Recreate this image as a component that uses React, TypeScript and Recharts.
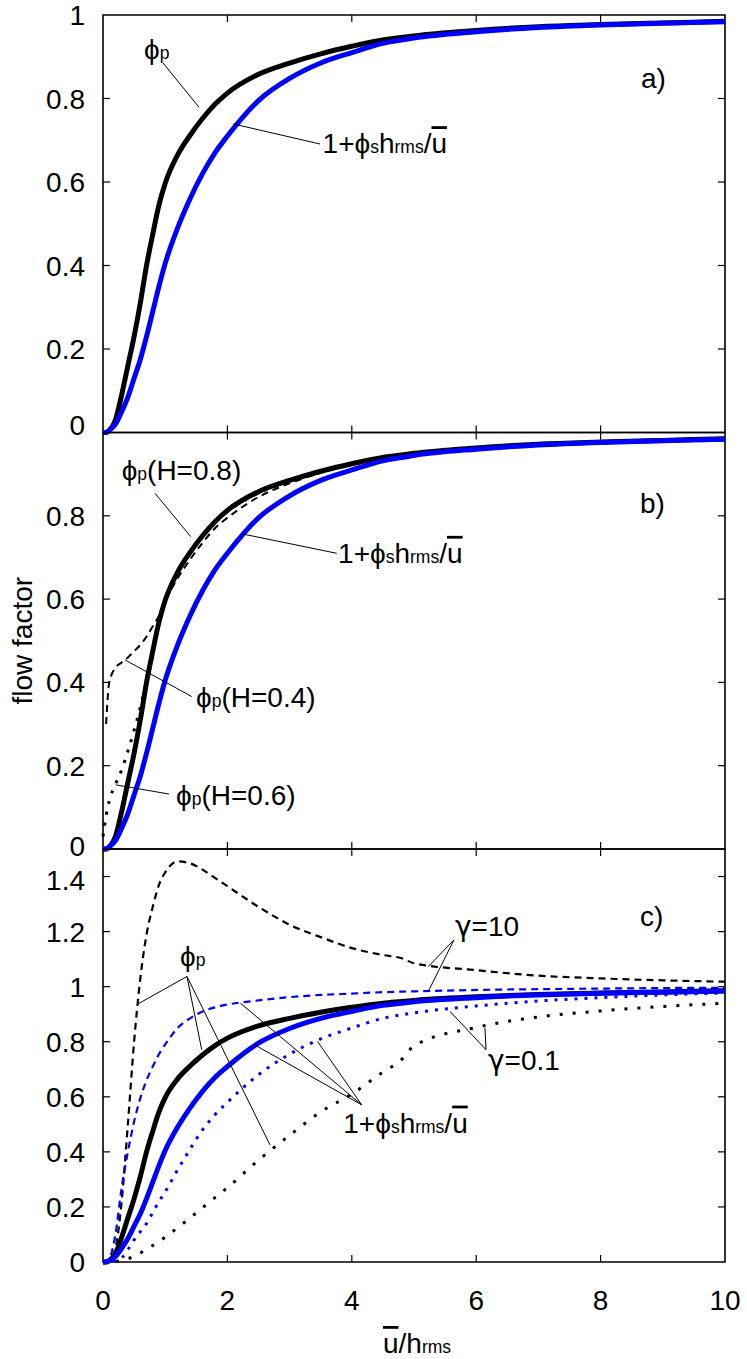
import React from 'react';
import { LineChart, Line, XAxis, YAxis, ReferenceArea, ReferenceLine, ReferenceDot } from 'recharts';

const FONT = "'Liberation Sans', Arial, 'DejaVu Sans', sans-serif";
const BLUE = '#0000ff';
const FS = 28;
const SMALL = 17.5;

// shared abscissa, u/h_rms
const xs = [0, 0.05, 0.1, 0.2, 0.3, 0.4, 0.5, 0.6, 0.7, 0.8, 0.9, 1.0, 1.2, 1.4, 1.6, 1.8, 2.0, 2.5, 3, 3.5, 4, 4.5, 4.8, 5, 6, 7, 8, 9, 10];

// phi_p, gamma = 1, H = 0.8 (black thick)
const phiP = [0, 0, 0.005, 0.03, 0.09, 0.16, 0.23, 0.31, 0.40, 0.475, 0.545, 0.597, 0.665, 0.712, 0.752, 0.786, 0.813, 0.858, 0.885, 0.907, 0.925, 0.94, 0.946, 0.95, 0.963, 0.972, 0.977, 0.981, 0.985];
// 1 + phi_s h_rms / u (blue thick)
const psi = [0, 0, 0.005, 0.02, 0.05, 0.085, 0.13, 0.175, 0.23, 0.29, 0.35, 0.405, 0.49, 0.56, 0.62, 0.67, 0.71, 0.795, 0.848, 0.885, 0.91, 0.932, 0.94, 0.945, 0.96, 0.97, 0.976, 0.98, 0.984];
// phi_p, H = 0.4 (dashed) and H = 0.6 (dotted)
const phiH04 = [null, 0.30, 0.40, 0.435, 0.448, 0.46, 0.475, 0.49, 0.51, 0.535, 0.56, 0.595, 0.65, 0.695, 0.735, 0.77, 0.795, 0.845, 0.878, 0.903, 0.922, 0.938, 0.945, 0.949, 0.962, 0.971, 0.976, 0.98, 0.984];
const phiH06 = [0.03, 0.08, 0.115, 0.155, 0.19, 0.235, 0.285, 0.34, 0.405, 0.475, 0.54, 0.595, 0.663, 0.71, 0.75, 0.785, 0.81, 0.855, 0.882, 0.905, 0.923, 0.939, 0.945, 0.949, 0.962, 0.971, 0.976, 0.98, 0.984];
// gamma = 10
const phiG10 = [0, 0, 0.005, 0.05, 0.22, 0.50, 0.80, 1.03, 1.19, 1.29, 1.37, 1.415, 1.455, 1.448, 1.425, 1.395, 1.365, 1.29, 1.225, 1.18, 1.14, 1.115, 1.103, 1.085, 1.06, 1.04, 1.03, 1.023, 1.018];
const psiG10 = [0, 0, 0.01, 0.1, 0.27, 0.40, 0.51, 0.595, 0.66, 0.71, 0.755, 0.79, 0.85, 0.885, 0.91, 0.925, 0.935, 0.95, 0.962, 0.97, 0.975, 0.98, 0.982, 0.983, 0.988, 0.991, 0.993, 0.995, 0.996];
// gamma = 0.1
const phiG01 = [0, 0, 0, 0.002, 0.005, 0.012, 0.02, 0.032, 0.046, 0.06, 0.075, 0.09, 0.125, 0.16, 0.197, 0.234, 0.27, 0.37, 0.46, 0.545, 0.61, 0.69, 0.735, 0.785, 0.852, 0.89, 0.912, 0.928, 0.94];
const psiG01 = [0, 0, 0, 0.005, 0.015, 0.045, 0.08, 0.11, 0.14, 0.18, 0.22, 0.255, 0.335, 0.41, 0.48, 0.535, 0.58, 0.68, 0.755, 0.81, 0.85, 0.885, 0.898, 0.905, 0.93, 0.948, 0.96, 0.97, 0.977];

const xTicks = [0, 2, 4, 6, 8, 10];
const yTicksA = [0, 0.2, 0.4, 0.6, 0.8, 1];
const yTicksB = [0, 0.2, 0.4, 0.6, 0.8];
const yTicksC = [0, 0.2, 0.4, 0.6, 0.8, 1, 1.2, 1.4];

const rows = xs.map((x, i) => ({
  x,
  phiP: phiP[i], psi: psi[i], phiH04: phiH04[i], phiH06: phiH06[i],
  phiG10: phiG10[i], psiG10: psiG10[i], phiG01: phiG01[i], psiG01: psiG01[i],
}));

const tickFont = { fontSize: FS, fill: '#000', fontFamily: FONT };

// shift: value -> vertical nudge of that tick label in px
function YTick(props: any) {
  const { x, y, payload, shift } = props;
  const dy = (shift && shift[payload.value]) || 0;
  return (
    <text x={x} y={y + dy} dy="0.36em" textAnchor="end" fontSize={FS} fontFamily={FONT} fill="#000">
      {payload.value}
    </text>
  );
}

function seg(key: string, x1: number, y1: number, x2: number, y2: number, w = 1) {
  return (
    <ReferenceLine key={key} segment={[{ x: x1, y: y1 }, { x: x2, y: y2 }]} stroke="#000" strokeWidth={w} ifOverflow="visible" />
  );
}

// inward ticks on all four sides plus the frame (tick length ~7px)
function frame(yMax: number, yTicks: number[], plotH: number) {
  const tx = 7 / 62.2;
  const ty = (7 / plotH) * yMax;
  const inner = xTicks.filter((t) => t > 0 && t < 10);
  return [
    ...inner.map((t) => seg('tt' + t, t, yMax, t, yMax - ty, 1.2)),
    ...inner.map((t) => seg('tb' + t, t, 0, t, ty, 1.2)),
    ...yTicks.filter((t) => t > 0 && t < yMax).map((t) => seg('tl' + t, 0, t, tx, t, 1.2)),
    ...yTicks.filter((t) => t > 0 && t < yMax).map((t) => seg('tr' + t, 10, t, 10 - tx, t, 1.2)),
    <ReferenceArea key="fr" x1={0} x2={10} y1={0} y2={yMax} fill="none" stroke="#000" strokeWidth={1.6} ifOverflow="visible" />,
  ];
}

const phiSym = (k: string) => [<tspan key={k + 'f'}>ϕ</tspan>, <tspan key={k + 'p'} fontSize={SMALL}>p</tspan>];
const gamma = (k: string, v: string) => [<tspan key={k + 'g'} fontFamily="'DejaVu Sans', sans-serif">γ</tspan>, <tspan key={k + 'v'}>{v}</tspan>];
const ratioText = [
  <tspan key="r1">1+ϕ</tspan>,
  <tspan key="r2" fontSize={SMALL}>s</tspan>,
  <tspan key="r3">h</tspan>,
  <tspan key="r4" fontSize={SMALL}>rms</tspan>,
  <tspan key="r5">/</tspan>,
  <tspan key="r6" style={{ textDecoration: 'overline' }}>u</tspan>,
];

function note(key: string, x: number, y: number, body: React.ReactNode) {
  return (
    <ReferenceDot
      key={key} x={x} y={y} r={0} fill="none" stroke="none" ifOverflow="visible"
      label={{
        content: (p: any) => (
          <text x={p.viewBox.x} y={p.viewBox.y} fontSize={FS} fontFamily={FONT} fill="#000">{body}</text>
        ),
      }}
    />
  );
}

const mainX = <XAxis type="number" dataKey="x" domain={[0, 10]} ticks={xTicks} hide />;

export default function App() {
  return (
    <div style={{ position: 'absolute', left: 0, top: 0, width: 747, height: 1359, background: '#fff' }}>
      {/* a) */}
      <div style={{ position: 'absolute', left: 0, top: 0 }}>
        <LineChart width={747} height={445} data={rows} margin={{ top: 15, right: 22, bottom: 12.5, left: 0 }}>
          {mainX}
          <YAxis type="number" domain={[0, 1]} ticks={yTicksA} interval={0} width={103} axisLine={false} tickLine={false} tickSize={0} tickMargin={18} tick={<YTick shift={{ 0: -8 }} />} />
          {frame(1, yTicksA, 417.5)}
          <Line dataKey="phiP" stroke="#000" strokeWidth={5} dot={false} type="monotone" isAnimationActive={false} />
          <Line dataKey="psi" stroke={BLUE} strokeWidth={5} dot={false} type="monotone" isAnimationActive={false} />
          {seg('la1', 0.965, 0.885, 1.543, 0.779)}
          {seg('la2', 2.095, 0.739, 3.489, 0.691)}
          {note('na1', 0.66, 0.895, phiSym('a'))}
          {note('na2', 3.53, 0.669, ratioText)}
          {note('na3', 8.65, 0.825, 'a)')}
        </LineChart>
      </div>

      {/* b) */}
      <div style={{ position: 'absolute', left: 0, top: 425 }}>
        <LineChart width={747} height={450} data={rows} margin={{ top: 7.5, right: 22, bottom: 26, left: 0 }}>
          {mainX}
          <YAxis
            type="number" domain={[0, 1]} ticks={yTicksB} interval={0} width={103} axisLine={false} tickLine={false}
            tickSize={0} tickMargin={18} tick={<YTick shift={{ 0: -3 }} />}
            label={{
              content: (p: any) => {
                const cy = p.viewBox.y + p.viewBox.height / 2;
                return (
                  <text x={22} y={cy} transform={`rotate(-90, 22, ${cy})`} textAnchor="middle" dominantBaseline="central" fontSize={FS} fontFamily={FONT} fill="#000">
                    flow factor
                  </text>
                );
              },
            }}
          />
          {frame(1, yTicksB, 416.5)}
          <Line dataKey="phiH04" stroke="#000" strokeWidth={2} strokeDasharray="7 5" dot={false} type="monotone" isAnimationActive={false} />
          <Line dataKey="phiH06" stroke="#000" strokeWidth={3} strokeDasharray="3 8" dot={false} type="monotone" isAnimationActive={false} />
          <Line dataKey="phiP" stroke="#000" strokeWidth={5} dot={false} type="monotone" isAnimationActive={false} />
          <Line dataKey="psi" stroke={BLUE} strokeWidth={5} dot={false} type="monotone" isAnimationActive={false} />
          {seg('lb1', 0.836, 0.854, 1.41, 0.75)}
          {seg('lb2', 2.256, 0.756, 3.757, 0.71)}
          {seg('lb3', 0.354, 0.454, 1.426, 0.366)}
          {seg('lb4', 0.204, 0.154, 1.061, 0.132)}
          {note('nb1', 0.30, 0.886, [...phiSym('b1'), <tspan key="h8">(H=0.8)</tspan>])}
          {note('nb2', 3.78, 0.687, ratioText)}
          {note('nb3', 1.495, 0.341, [...phiSym('b3'), <tspan key="h4">(H=0.4)</tspan>])}
          {note('nb4', 1.174, 0.106, [...phiSym('b4'), <tspan key="h6">(H=0.6)</tspan>])}
          {note('nb5', 8.633, 0.807, 'b)')}
        </LineChart>
      </div>

      {/* c) */}
      <div style={{ position: 'absolute', left: 0, top: 840 }}>
        <LineChart width={747} height={519} data={rows} margin={{ top: 9, right: 22, bottom: 37, left: 0 }}>
          <XAxis
            type="number" dataKey="x" domain={[0, 10]} ticks={xTicks} interval={0} height={60}
            axisLine={false} tickLine={false} tickSize={0} tickMargin={28} tick={tickFont}
            label={{
              content: (p: any) => {
                const cx = p.viewBox.x + p.viewBox.width / 2 + 3;
                return (
                  <text x={cx} y={p.viewBox.y + 91} textAnchor="middle" fontSize={FS} fontFamily={FONT} fill="#000">
                    <tspan style={{ textDecoration: 'overline' }}>u</tspan>
                    <tspan>/h</tspan>
                    <tspan fontSize={SMALL}>rms</tspan>
                  </text>
                );
              },
            }}
          />
          <YAxis type="number" domain={[0, 1.5]} ticks={yTicksC} interval={0} width={103} axisLine={false} tickLine={false} tickSize={0} tickMargin={18} tick={<YTick shift={{ 1.4: 3 }} />} />
          {frame(1.5, yTicksC, 413)}
          <Line dataKey="phiG01" stroke="#000" strokeWidth={3} strokeDasharray="3 10" dot={false} type="monotone" isAnimationActive={false} />
          <Line dataKey="psiG01" stroke={BLUE} strokeWidth={3} strokeDasharray="3 7" dot={false} type="monotone" isAnimationActive={false} />
          <Line dataKey="phiG10" stroke="#000" strokeWidth={2.2} strokeDasharray="7 5" dot={false} type="monotone" isAnimationActive={false} />
          <Line dataKey="psiG10" stroke={BLUE} strokeWidth={2.2} strokeDasharray="7 5" dot={false} type="monotone" isAnimationActive={false} />
          <Line dataKey="phiP" stroke="#000" strokeWidth={5} dot={false} type="monotone" isAnimationActive={false} />
          <Line dataKey="psi" stroke={BLUE} strokeWidth={5} dot={false} type="monotone" isAnimationActive={false} />
          {seg('lc1', 1.35, 1.037, 0.568, 0.938)}
          {seg('lc2', 1.35, 1.037, 1.587, 0.771)}
          {seg('lc3', 1.35, 1.037, 2.685, 0.425)}
          {seg('lc4', 5.643, 1.17, 5.23, 1.073)}
          {seg('lc5', 5.643, 1.17, 5.23, 0.983)}
          {seg('lc6', 6.158, 0.771, 5.579, 0.91)}
          {seg('lc7', 6.158, 0.771, 6.141, 0.85)}
          {seg('lc8', 4.158, 0.571, 2.209, 0.94)}
          {seg('lc9', 4.158, 0.571, 2.434, 0.789)}
          {seg('lc10', 4.158, 0.571, 3.449, 0.801)}
          {note('nc1', 1.238, 1.076, phiSym('c'))}
          {note('nc2', 5.659, 1.185, gamma('g1', '=10'))}
          {note('nc3', 6.19, 0.698, gamma('g2', '=0.1'))}
          {note('nc4', 3.863, 0.47, ratioText)}
          {note('nc5', 8.633, 1.221, 'c)')}
        </LineChart>
      </div>
    </div>
  );
}
